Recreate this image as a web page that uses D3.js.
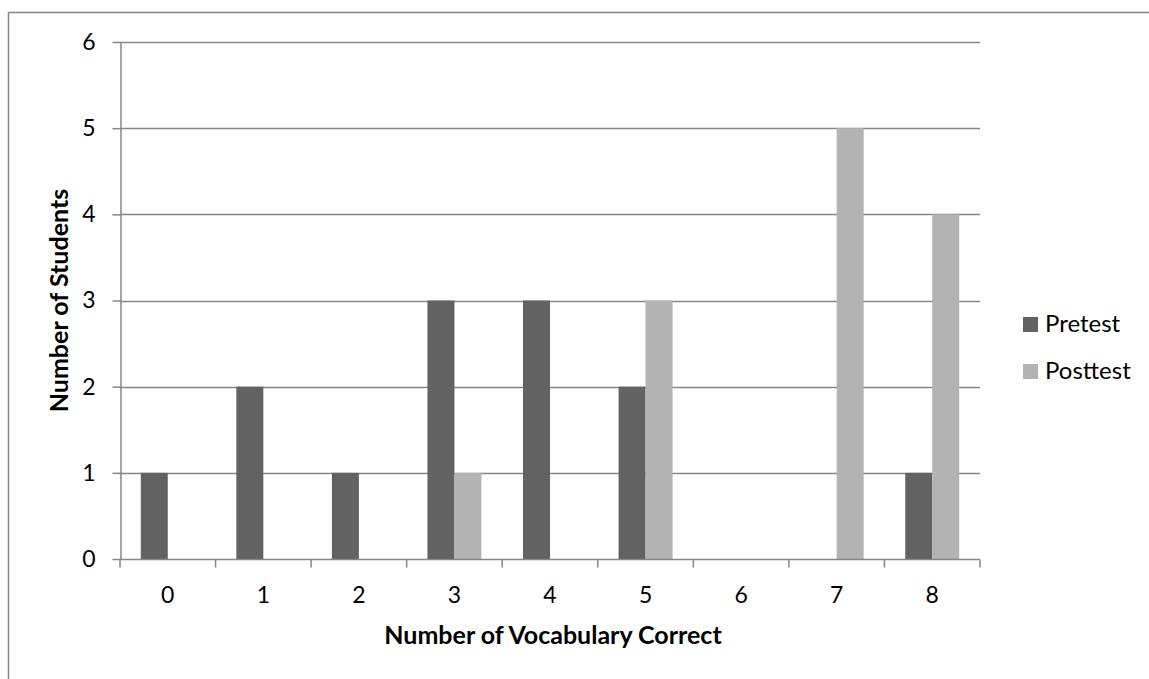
<!DOCTYPE html>
<html>
<head>
<meta charset="utf-8">
<script src="https://cdn.jsdelivr.net/npm/d3@7"></script>
<style>
  html, body { margin: 0; padding: 0; background: #fff; }
  svg { display: block; font-family: Lato, "Open Sans", sans-serif; }
</style>
</head>
<body>
<svg id="chart" width="1149" height="679"></svg>
<script>
// 数据
const categories = ['0', '1', '2', '3', '4', '5', '6', '7', '8'];
const seriesNames = ['Pretest', 'Posttest'];
const pretest = [1, 2, 1, 3, 3, 2, 0, 0, 1];
const posttest = [0, 0, 0, 1, 0, 3, 0, 5, 4];
const yTicks = [0, 1, 2, 3, 4, 5, 6];
const colors = ['#626262', '#b3b3b3'];

const W = 1149, H = 679;
const plot = { left: 120, right: 980, top: 42, bottom: 559 };
const gridColor = '#868686';
const FONT = 'Lato, "Open Sans", sans-serif';

const svg = d3.select('#chart');

// 外框（只露出上、左两边）
svg.append('path')
  .attr('d', `M8.5,${H} L8.5,12.5 L${W},12.5`)
  .attr('fill', 'none').attr('stroke', gridColor).attr('stroke-width', 1.5);

const x0 = d3.scaleBand().domain(categories).range([plot.left, plot.right]).padding(0);
const x1 = d3.scaleBand().domain(seriesNames).range([0, x0.bandwidth()]).paddingInner(0).paddingOuter(0.77);
const y = d3.scaleLinear().domain([0, 6]).range([plot.bottom, plot.top]);

// 网格线
svg.append('g').selectAll('line').data(yTicks.filter((d) => d > 0)).enter().append('line')
  .attr('x1', plot.left).attr('x2', plot.right)
  .attr('y1', (d) => Math.round(y(d)) + 0.5).attr('y2', (d) => Math.round(y(d)) + 0.5)
  .attr('stroke', gridColor).attr('stroke-width', 1.5);

// 柱子
const rows = categories.map((c, i) => ({ cat: c, values: [pretest[i], posttest[i]] }));
const groups = svg.append('g').selectAll('g').data(rows).enter().append('g')
  .attr('transform', (d) => `translate(${x0(d.cat)},0)`);
groups.selectAll('rect').data((d) => d.values.map((v, j) => ({ key: seriesNames[j], v, j })))
  .enter().append('rect')
  .attr('x', (d) => x1(d.key)).attr('width', x1.bandwidth())
  .attr('y', (d) => y(d.v)).attr('height', (d) => plot.bottom - y(d.v))
  .attr('fill', (d) => colors[d.j]);

// y 轴
const yAxis = svg.append('g').attr('transform', `translate(${plot.left + 0.5},0)`)
  .call(d3.axisLeft(y).tickValues(yTicks).tickFormat(d3.format('d')).tickSize(8).tickPadding(17).tickSizeOuter(0));
yAxis.select('.domain').attr('stroke', gridColor).attr('stroke-width', 1.5);
yAxis.selectAll('.tick line').attr('stroke', gridColor).attr('stroke-width', 1.5);
yAxis.selectAll('.tick text').attr('font-size', 23).attr('fill', '#000').attr('font-family', FONT);

// x 轴
const xAxisG = svg.append('g').attr('transform', `translate(0,${plot.bottom + 0.5})`);
xAxisG.append('line').attr('x1', plot.left).attr('x2', plot.right)
  .attr('stroke', gridColor).attr('stroke-width', 1.5);
const boundaries = categories.map((c) => x0(c)).concat([x0.range()[1]]);
xAxisG.selectAll('line.t').data(boundaries).enter().append('line')
  .attr('class', 't').attr('x1', (d) => d).attr('x2', (d) => d)
  .attr('y1', 0).attr('y2', 8).attr('stroke', gridColor).attr('stroke-width', 1.5);
xAxisG.selectAll('text').data(categories).enter().append('text')
  .attr('x', (d) => x0(d) + x0.bandwidth() / 2).attr('y', 43)
  .attr('text-anchor', 'middle').attr('font-size', 23).attr('fill', '#000')
  .text((d) => d);

// 轴标题
svg.append('text').attr('x', 553).attr('y', 644)
  .attr('text-anchor', 'middle').attr('font-size', 25).attr('font-weight', 'bold')
  .text('Number of Vocabulary Correct');
svg.append('text').attr('transform', `translate(68,${(plot.top + plot.bottom) / 2}) rotate(-90)`)
  .attr('text-anchor', 'middle').attr('font-size', 25).attr('font-weight', 'bold')
  .text('Number of Students');

// 图例
const legend = svg.append('g').attr('transform', 'translate(1023,317)');
seriesNames.forEach((name, i) => {
  const row = legend.append('g').attr('transform', `translate(0,${i * 47})`);
  row.append('rect').attr('width', 15).attr('height', 15).attr('fill', colors[i]);
  row.append('text').attr('x', 22).attr('y', 15).attr('font-size', 24).attr('fill', '#000').text(name);
});
</script>
</body>
</html>
